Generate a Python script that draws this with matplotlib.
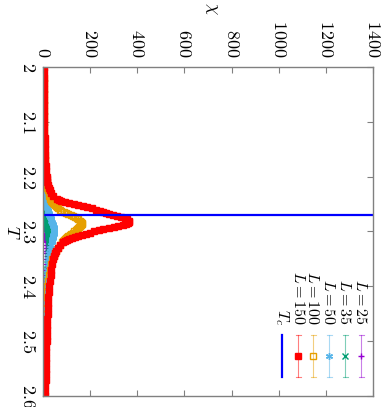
import matplotlib
matplotlib.use("Agg")
import matplotlib.pyplot as plt

plt.rcParams['mathtext.fontset'] = 'cm'
plt.rcParams['font.family'] = ['DejaVu Serif']

# ---------------- data ----------------
T = [2.00, 2.01, 2.02, 2.03, 2.04, 2.05, 2.06, 2.07, 2.08, 2.09, 2.10,
     2.11, 2.12, 2.13, 2.14, 2.15, 2.16, 2.17, 2.18, 2.19, 2.20,
     2.205, 2.21, 2.215, 2.22, 2.225, 2.23, 2.235,
     2.240, 2.242, 2.244, 2.246, 2.248, 2.250, 2.252, 2.254, 2.256, 2.258,
     2.260, 2.262, 2.264, 2.266, 2.268, 2.270, 2.272, 2.274, 2.276, 2.278,
     2.280, 2.282, 2.284, 2.286, 2.288, 2.290, 2.292, 2.294, 2.296, 2.298,
     2.300, 2.302, 2.304, 2.306, 2.308, 2.310, 2.312, 2.314, 2.316, 2.318,
     2.320,
     2.325, 2.33, 2.335, 2.34, 2.345, 2.35,
     2.36, 2.37, 2.38, 2.39, 2.40, 2.41, 2.42, 2.43, 2.44, 2.45,
     2.46, 2.47, 2.48, 2.49, 2.50, 2.51, 2.52, 2.53, 2.54, 2.55,
     2.56, 2.57, 2.58, 2.59, 2.60]

chi_L25 = [0.5, 0.5, 0.55, 0.6, 0.62, 0.65, 0.7, 0.75, 0.8, 0.9, 1.0,
           1.05, 1.15, 1.25, 1.35, 1.5, 1.65, 1.8, 2.0, 2.2, 2.5,
           2.6, 2.8, 3.0, 3.2, 3.4, 3.6, 3.9,
           4.2, 4.3, 4.4, 4.6, 4.7, 4.9, 5.0, 5.2, 5.4, 5.5,
           5.7, 5.9, 6.0, 6.2, 6.4, 6.6, 6.8, 7.0, 7.2, 7.4,
           7.7, 7.9, 8.1, 8.4, 8.7, 9.0, 9.3, 9.6, 9.9, 10.1,
           10.4, 10.7, 11.0, 11.3, 11.5, 11.8, 12.1, 12.4, 12.6, 12.9,
           13.1,
           13.7, 14.2, 14.6, 14.8, 14.9, 14.8,
           14.3, 13.5, 12.6, 11.6, 10.6, 9.7, 8.8, 8.0, 7.3, 6.7,
           6.1, 5.6, 5.1, 4.7, 4.4, 4.1, 3.8, 3.5, 3.3, 3.1,
           2.9, 2.7, 2.5, 2.4, 2.3]

chi_L35 = [0.7, 0.7, 0.75, 0.8, 0.85, 0.9, 1.0, 1.05, 1.1, 1.2, 1.3,
           1.4, 1.5, 1.65, 1.8, 2.0, 2.2, 2.45, 2.75, 3.1, 3.5,
           3.75, 4.0, 4.3, 4.6, 5.0, 5.4, 5.8,
           6.3, 6.5, 6.8, 7.0, 7.3, 7.5, 7.8, 8.1, 8.4, 8.7,
           9.0, 9.4, 9.8, 10.2, 10.6, 11.0, 11.5, 12.0, 12.5, 13.0,
           13.5, 14.1, 14.7, 15.3, 15.9, 16.5, 17.1, 17.7, 18.4, 19.1,
           19.8, 20.5, 21.2, 21.8, 22.4, 23.0, 23.6, 24.2, 24.7, 25.1,
           25.5,
           26.0, 25.5, 24.5, 23.3, 22.0, 20.8,
           18.5, 16.3, 14.5, 12.8, 11.3, 10.0, 9.0, 8.1, 7.3, 6.6,
           6.0, 5.5, 5.0, 4.6, 4.3, 4.0, 3.7, 3.4, 3.2, 3.0,
           2.8, 2.6, 2.5, 2.3, 2.2]

chi_L50 = [1.0, 1.1, 1.1, 1.2, 1.3, 1.4, 1.5, 1.6, 1.7, 1.9, 2.0,
           2.2, 2.4, 2.6, 2.8, 3.0, 3.4, 3.8, 4.3, 5.0, 5.7,
           6.1, 6.6, 7.1, 7.7, 8.4, 9.2, 10.0,
           11.0, 11.6, 12.3, 13.0, 13.8, 14.6, 15.5, 16.5, 17.5, 18.6,
           19.8, 21.0, 22.4, 23.8, 25.3, 27.0, 28.7, 30.5, 32.3, 34.2,
           36.0, 37.8, 39.5, 41.0, 42.4, 43.6, 44.6, 45.3, 45.8, 46.0,
           46.0, 45.7, 45.2, 44.5, 43.6, 42.6, 41.5, 40.3, 39.0, 37.7,
           36.4,
           33.5, 31.0, 28.5, 26.5, 24.5, 23.0,
           20.0, 17.5, 15.3, 13.5, 12.0, 10.8, 9.8, 8.9, 8.1, 7.5,
           6.9, 6.4, 5.9, 5.5, 5.1, 4.8, 4.5, 4.2, 4.0, 3.8,
           3.6, 3.4, 3.2, 3.1, 3.0]

chi_L100 = [2.0, 2.0, 2.2, 2.4, 2.6, 2.8, 3.0, 3.2, 3.5, 3.8, 4.0,
            4.4, 4.8, 5.2, 5.7, 6.3, 7.0, 8.0, 9.0, 10.5, 12.0,
            13.5, 15.0, 17.0, 19.0, 21.0, 24.0, 27.0,
            30.0, 32.0, 35.0, 38.0, 42.0, 46.0, 50.0, 55.0, 60.0, 65.0,
            70.0, 78.0, 88.0, 98.0, 108.0, 117.0, 126.0, 135.0, 143.0, 150.0,
            156.0, 161.0, 164.0, 164.0, 162.0, 158.0, 153.0, 148.0, 143.0, 138.0,
            132.0, 126.0, 120.0, 114.0, 108.0, 102.0, 97.0, 92.0, 88.0, 84.0,
            80.0,
            72.0, 64.0, 57.0, 50.0, 45.0, 40.0,
            33.0, 28.0, 24.0, 21.0, 19.0, 17.0, 15.5, 14.0, 13.0, 12.0,
            11.2, 10.5, 9.8, 9.2, 8.7, 8.2, 7.8, 7.4, 7.0, 6.7,
            6.4, 6.1, 5.8, 5.6, 5.4]

chi_L150 = [3.0, 3.0, 3.0, 3.5, 3.5, 4.0, 4.0, 4.5, 4.5, 5.0, 5.0,
            5.5, 6.0, 6.5, 7.0, 8.0, 9.0, 10.0, 11.5, 13.0, 15.0,
            17.0, 19.0, 21.0, 24.0, 28.0, 34.0, 44.0,
            60.0, 68.0, 78.0, 92.0, 110.0, 130.0, 150.0, 168.0, 188.0, 208.0,
            226.0, 242.0, 256.0, 268.0, 280.0, 295.0, 312.0, 330.0, 346.0, 357.0,
            363.0, 365.0, 360.0, 350.0, 338.0, 320.0, 300.0, 278.0, 256.0, 236.0,
            218.0, 200.0, 182.0, 165.0, 150.0, 136.0, 123.0, 112.0, 102.0, 93.0,
            85.0,
            72.0, 62.0, 55.0, 50.0, 46.0, 43.0,
            39.0, 35.0, 32.0, 29.0, 27.0, 25.0, 23.0, 22.0, 21.0, 20.0,
            18.5, 17.5, 16.5, 15.5, 15.0, 14.0, 13.5, 13.0, 12.5, 12.0,
            11.5, 11.0, 10.5, 10.0, 10.0]

# typical error-bar half-widths
err_L25, err_L35, err_L50, err_L100, err_L150 = 1.0, 1.5, 2.5, 5.0, 9.0

Tc = 2.269
labels = [r"$L = 25$", r"$L = 35$", r"$L = 50$", r"$L = 100$", r"$L = 150$"]
chi_ticks = [0, 200, 400, 600, 800, 1000, 1200, 1400]
T_ticks = [2.0, 2.1, 2.2, 2.3, 2.4, 2.5, 2.6]

# ---------------- figure ----------------
W, H = 382, 407
fig = plt.figure(figsize=(W / 100, H / 100), dpi=100)
ax_l, ax_r, ax_t, ax_b = 43, 373, 67, 396
ax = fig.add_axes([ax_l / W, (H - ax_b) / H, (ax_r - ax_l) / W, (ax_b - ax_t) / H])

colors = ['#9400d3', '#009e73', '#56b4e9', '#e69f00', '#ff0000']
series = [chi_L25, chi_L35, chi_L50, chi_L100, chi_L150]
errs = [err_L25, err_L35, err_L50, err_L100, err_L150]
markers = ['+', 'x', (6, 2, 0), 's', 's']
mfcs = [colors[0], colors[1], colors[2], 'none', colors[4]]
msizes = [5, 4.5, 5, 4.2, 4.9]
key_ms = [5, 4.5, 5, 4, 4]

for chi, e, c, m, mfc, ms in zip(series, errs, colors, markers, mfcs, msizes):
    ax.errorbar(chi, T, xerr=e, fmt='none', ecolor=c, alpha=0.5,
                elinewidth=0.8, capsize=1.5, capthick=0.8)
    ax.plot(chi, T, linestyle='none', marker=m, color=c, mfc=mfc,
            mec=c, ms=ms, mew=1.0)

ax.axhline(Tc, color='#0000ff', lw=1.6)

ax.set_xlim(0, 1400)
ax.set_ylim(2.6, 2.0)
ax.xaxis.tick_top()
ax.set_xticks(chi_ticks)
ax.set_xticklabels([f"${v}$" for v in chi_ticks], rotation=-90,
                   ha='center', va='bottom', fontsize=13)
ax.set_yticks(T_ticks)
ax.set_yticklabels([f"${v:g}$" for v in T_ticks], rotation=-90,
                   ha='right', va='center', fontsize=13)
ax.tick_params(axis='both', direction='in', length=4, width=0.8, color='#808080',
               top=True, bottom=True, left=True, right=True,
               labeltop=True, labelbottom=False)
ax.tick_params(axis='x', pad=7)
ax.tick_params(axis='y', pad=4)
for s in ax.spines.values():
    s.set_color('#808080')
    s.set_linewidth(1.0)

fig.text(212 / W, 1 - 8 / H, r"$\chi$", rotation=-90, ha='center', va='center', fontsize=13)
fig.text(12 / W, 1 - 232 / H, r"$T$", rotation=-90, ha='center', va='center', fontsize=13)

# ---------------- key (manual, rotated) ----------------
def fx(px):
    return (px - ax_l) / (ax_r - ax_l)

def fy(py):
    return (ax_b - py) / (ax_b - ax_t)

key_x = [361, 345, 329, 313, 298]
y_text, y0, y1, ym = 325, 335, 377, 356
for lab, c, m, mfc, ms, kx in zip(labels, colors, markers, mfcs, key_ms, key_x):
    ax.text(fx(kx), fy(y_text), lab, rotation=-90, ha='center', va='bottom',
            fontsize=11.5, transform=ax.transAxes)
    ax.plot([fx(kx), fx(kx)], [fy(y0), fy(y1)], color=c, alpha=0.5, lw=0.8,
            transform=ax.transAxes, clip_on=False)
    for yy in (y0, y1):
        ax.plot([fx(kx - 2.5), fx(kx + 2.5)], [fy(yy), fy(yy)], color=c, alpha=0.5,
                lw=0.8, transform=ax.transAxes, clip_on=False)
    ax.plot([fx(kx)], [fy(ym)], linestyle='none', marker=m, color=c, mfc=mfc,
            mec=c, ms=ms, mew=1.0, transform=ax.transAxes, clip_on=False)

ax.text(fx(282), fy(y_text), r"$T_c$", rotation=-90, ha='center', va='bottom',
        fontsize=11.5, transform=ax.transAxes)
ax.plot([fx(282), fx(282)], [fy(y0), fy(y1)], color='#0000ff', lw=1.6,
        transform=ax.transAxes)

fig.savefig("out.png", dpi=100)
